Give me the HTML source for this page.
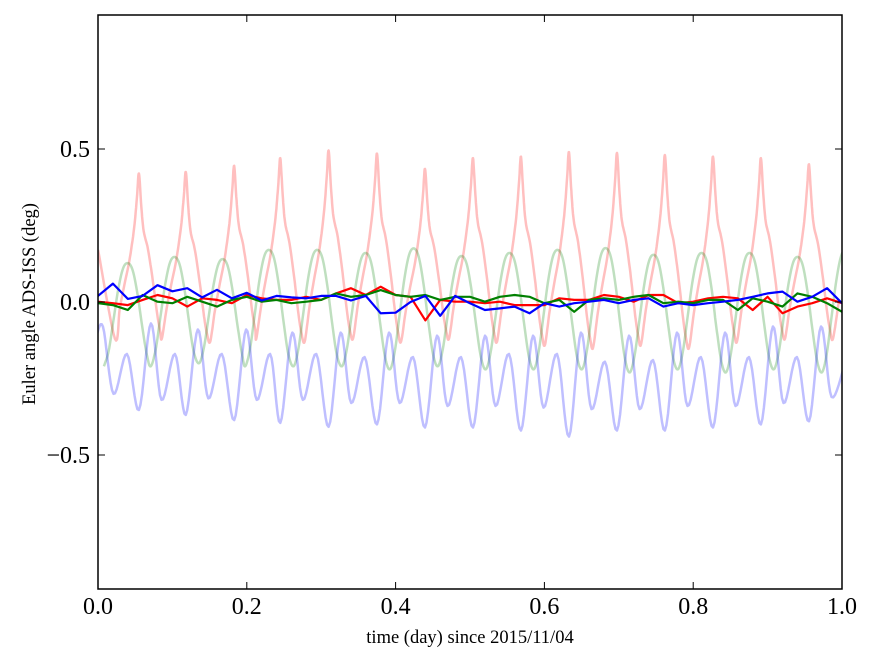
<!DOCTYPE html>
<html><head><meta charset="utf-8"><style>
html,body{margin:0;padding:0;background:#fff;}
svg{display:block;font-family:"Liberation Serif",serif;}
</style></head><body>
<svg id="chart" width="875" height="662" viewBox="0 0 875 662">
<rect x="0" y="0" width="875" height="662" fill="#fff"/>
<defs><clipPath id="pc"><rect x="98" y="15" width="744" height="574"/></clipPath></defs>
<g id="series" clip-path="url(#pc)"></g>
<rect x="98" y="15" width="744" height="574" fill="none" stroke="#000" stroke-width="1.5"/>
<g id="ticks"></g>
<text x="470" y="643" font-size="18.5" text-anchor="middle">time (day) since 2015/11/04</text>
<text transform="translate(35,304) rotate(-90)" font-size="18.5" text-anchor="middle">Euler angle ADS-ISS (deg)</text>
</svg>
<script>
// ---- data ----
const xTicks = [0.0, 0.2, 0.4, 0.6, 0.8, 1.0];
const xTickLabels = ["0.0", "0.2", "0.4", "0.6", "0.8", "1.0"];
const yTicks = [0.5, 0.0, -0.5];
const yTickLabels = ["0.5", "0.0", "\u22120.5"];
const cyclePeriod = 0.0645;
const redPeakTimes = [0.055,0.118,0.183,0.245,0.310,0.375,0.4395,0.504,0.5685,0.633,0.6976,0.762,0.8266,0.891,0.9556];
const redPeaks = [0.42,0.425,0.445,0.47,0.495,0.485,0.435,0.47,0.475,0.49,0.487,0.48,0.475,0.47,0.45];
const redTroughs = [-0.12,-0.12,-0.13,-0.12,-0.13,-0.12,-0.13,-0.12,-0.13,-0.14,-0.15,-0.14,-0.15,-0.13,-0.12,-0.12];
const redShapePhase = [-0.4,-0.3,-0.2,-0.1,-0.04,0,0.05,0.1,0.19,0.29,0.38,0.44];
const redShapeFrac  = [0.18,0.33,0.47,0.67,0.86,1,0.8,0.65,0.54,0.35,0.15,0.05];
const greenPeaks = [0.127,0.147,0.14,0.17,0.17,0.16,0.175,0.15,0.16,0.17,0.176,0.154,0.16,0.16,0.147,0.17];
const greenTroughs = [-0.21,-0.21,-0.2,-0.21,-0.21,-0.21,-0.22,-0.21,-0.22,-0.22,-0.22,-0.23,-0.22,-0.23,-0.22,-0.23,-0.22];
const greenShapePhase = [-0.4,-0.3,-0.2,-0.1,0,0.1,0.2,0.3,0.4];
const greenShapeFrac  = [0.15,0.45,0.75,0.95,1,0.93,0.7,0.38,0.1];
const blueDeep = [-0.353,-0.369,-0.386,-0.395,-0.408,-0.40,-0.41,-0.41,-0.42,-0.44,-0.42,-0.42,-0.41,-0.40,-0.39];
const blueHigh = [-0.08,-0.07,-0.09,-0.09,-0.10,-0.10,-0.10,-0.11,-0.11,-0.11,-0.10,-0.11,-0.10,-0.10,-0.08,-0.08];
const blueShallow = [-0.30,-0.32,-0.315,-0.32,-0.32,-0.33,-0.33,-0.34,-0.34,-0.345,-0.35,-0.35,-0.34,-0.34,-0.33,-0.31];
const blueLow = [-0.17,-0.17,-0.17,-0.17,-0.17,-0.18,-0.18,-0.18,-0.17,-0.17,-0.195,-0.19,-0.18,-0.18,-0.18,-0.2];
const noiseTimes = [0,0.02,0.04,0.06,0.08,0.1,0.12,0.14,0.16,0.18,0.2,0.22,0.24,0.26,0.28,0.3,0.32,0.34,0.36,0.38,0.4,0.42,0.44,0.46,0.48,0.5,0.52,0.54,0.56,0.58,0.6,0.62,0.64,0.66,0.68,0.7,0.72,0.74,0.76,0.78,0.8,0.82,0.84,0.86,0.88,0.9,0.92,0.94,0.96,0.98,1.0];
const redNoisy = [0.001,-0.004,-0.01,0.007,0.023,0.012,-0.015,0.012,0.007,-0.004,0.023,0.012,0.007,0.007,0.017,0.007,0.028,0.045,0.023,0.05,0.023,0.017,-0.06,0.007,0.001,0.001,-0.004,0.001,-0.01,-0.01,-0.01,0.012,0.007,0.007,0.023,0.017,0.001,0.023,0.023,-0.004,0.001,0.012,0.017,0.012,-0.026,0.017,-0.037,-0.015,-0.004,0.012,-0.004];
const greenNoisy = [-0.004,-0.01,-0.026,0.023,0.001,-0.004,0.017,0.001,-0.015,0.007,0.017,0.001,0.007,-0.004,0.001,0.007,0.028,0.017,0.023,0.039,0.023,0.017,0.023,0.007,0.017,0.017,0.001,0.017,0.023,0.017,-0.004,0.007,-0.032,0.007,0.012,0.007,0.017,0.023,-0.004,0.001,-0.004,0.007,0.007,-0.026,0.012,0.001,-0.015,0.028,0.017,-0.004,-0.032];
const blueNoisy = [0.02,0.06,0.01,0.02,0.055,0.035,0.045,0.015,0.04,0.012,0.03,0.005,0.02,0.015,0.012,0.02,0.02,0.005,0.02,-0.037,-0.035,0.0,0.02,-0.045,0.02,-0.004,-0.026,-0.021,-0.015,-0.037,-0.004,-0.015,-0.004,0.001,0.007,-0.004,0.007,0.012,-0.015,-0.004,-0.01,-0.004,0.001,0.007,0.017,0.028,0.034,0.001,0.017,0.045,-0.004];

// ---- axes ----
const X0=98,X1=842,Y0=302,YS=306;
function xs(t){return X0+(X1-X0)*t;}
function ys(v){return Y0-YS*v;}
const NS="http://www.w3.org/2000/svg";
const series=document.getElementById('series');
const ticks=document.getElementById('ticks');
function mk(tag,attrs,parent){const e=document.createElementNS(NS,tag);for(const k in attrs)e.setAttribute(k,attrs[k]);parent.appendChild(e);return e;}

xTicks.forEach((t,i)=>{
  const a=mk('line',{x1:xs(t),x2:xs(t),y1:589,y2:582,stroke:'#000','stroke-width':1},ticks);
  
  
  const b=mk('line',{x1:xs(t),x2:xs(t),y1:15,y2:22,stroke:'#000','stroke-width':1},ticks);
  
  
  const l=mk('text',{x:xs(t),y:614,'font-size':24,'text-anchor':'middle'},ticks);
  l.textContent=xTickLabels[i];
  
  
});
yTicks.forEach((v,i)=>{
  const a=mk('line',{x1:98,x2:105,y1:ys(v),y2:ys(v),stroke:'#000','stroke-width':1},ticks);
  
  
  const b=mk('line',{x1:842,x2:835,y1:ys(v),y2:ys(v),stroke:'#000','stroke-width':1},ticks);
  
  
  const l=mk('text',{x:90,y:ys(v)+8,'font-size':24,'text-anchor':'end'},ticks);
  l.textContent=yTickLabels[i];
  
  
});

// ---- keypoint builders ----
function smoothPath(pts){
  pts.sort((a,b)=>a[0]-b[0]);
  let out=[];
  for(let i=0;i<pts.length-1;i++){
    const p0=pts[Math.max(0,i-1)],p1=pts[i],p2=pts[i+1],p3=pts[Math.min(pts.length-1,i+2)];
    for(let s=0;s<8;s++){
      const u=s/8,u2=u*u,u3=u2*u;
      const f=(a,b,c,d)=>0.5*((2*b)+(-a+c)*u+(2*a-5*b+4*c-d)*u2+(-a+3*b-3*c+d)*u3);
      out.push([f(p0[0],p1[0],p2[0],p3[0]),f(p0[1],p1[1],p2[1],p3[1])]);
    }
  }
  out.push(pts[pts.length-1]);
  return out.map(p=>xs(p[0]).toFixed(1)+','+ys(p[1]).toFixed(1)).join(' ');
}
function linePath(ts,vs){return ts.map((t,i)=>xs(t).toFixed(1)+','+ys(vs[i]).toFixed(1)).join(' ');}

// light red
const rp=[];
redPeakTimes.forEach((tp,k)=>{
  const pk=redPeaks[k];
  rp.push([tp-0.5*cyclePeriod,redTroughs[k]]);
  redShapePhase.forEach((ph,j)=>{
    const tr = ph<0?redTroughs[k]:redTroughs[k+1];
    rp.push([tp+ph*cyclePeriod,tr+redShapeFrac[j]*(pk-tr)]);
  });
});
const last=redPeakTimes[redPeakTimes.length-1];
rp.push([last+0.5*cyclePeriod,redTroughs[redTroughs.length-1]]);
rp.push([last+0.62*cyclePeriod,redTroughs[redTroughs.length-1]+0.22*0.55]);
rp.unshift([redPeakTimes[0]-0.85*cyclePeriod,0.17]);

// light green
const gp=[];
greenPeaks.forEach((pk,k)=>{
  const tc = k<redPeakTimes.length? redPeakTimes[k]-0.23*cyclePeriod : last+0.77*cyclePeriod;
  gp.push([tc-0.5*cyclePeriod,greenTroughs[k]]);
  greenShapePhase.forEach((ph,j)=>{
    const tr = ph<0?greenTroughs[k]:greenTroughs[k+1];
    gp.push([tc+ph*cyclePeriod,tr+greenShapeFrac[j]*(pk-tr)]);
  });
});

// light blue
const bp=[];
const t0=redPeakTimes[0];
bp.push([t0-0.9*cyclePeriod,-0.12]);
bp.push([t0-0.75*cyclePeriod,blueHigh[0]]);
bp.push([t0-0.53*cyclePeriod,blueShallow[0]]);
bp.push([t0-0.25*cyclePeriod,blueLow[0]]);
redPeakTimes.forEach((tp,k)=>{
  bp.push([tp,blueDeep[k]]);
  bp.push([tp+0.25*cyclePeriod,blueHigh[k+1]]);
  bp.push([tp+0.47*cyclePeriod,blueShallow[k+1]]);
  bp.push([tp+0.75*cyclePeriod,blueLow[k+1]]);
});

function addLine(points,color,width,name){
  const el=mk('polyline',{points:points,fill:'none',stroke:color,'stroke-width':width,'stroke-linejoin':'round'},series);
  
  
}
addLine(smoothPath(rp),'rgba(255,0,0,0.25)',2.5,'line-red-reference');
addLine(smoothPath(gp),'rgba(0,128,0,0.25)',2.5,'line-green-reference');
addLine(smoothPath(bp),'rgba(0,0,255,0.25)',2.5,'line-blue-reference');
addLine(linePath(noiseTimes,redNoisy),'#ff0000',2.2,'line-red-angle');
addLine(linePath(noiseTimes,greenNoisy),'#008000',2.2,'line-green-angle');
addLine(linePath(noiseTimes,blueNoisy),'#0000ff',2.2,'line-blue-angle');
</script>
</body></html>
